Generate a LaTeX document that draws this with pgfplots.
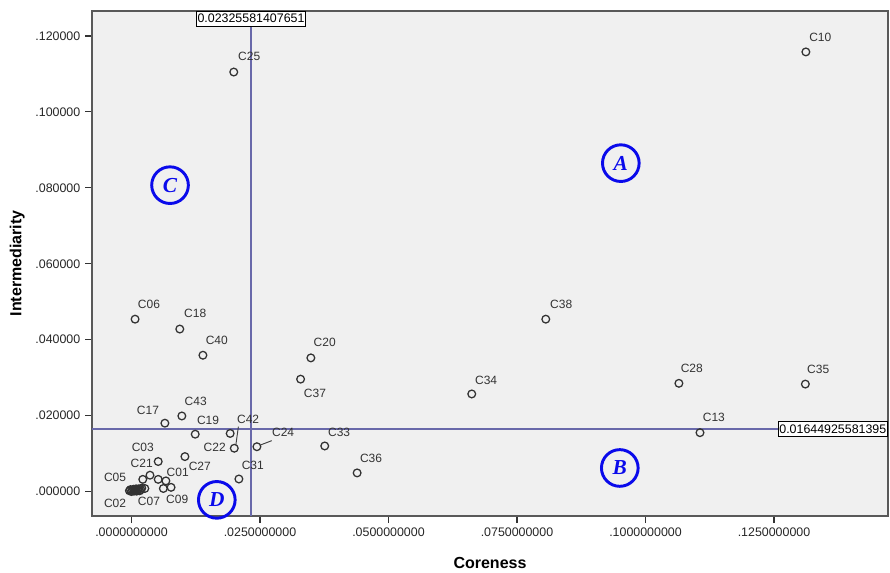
\documentclass[border=0pt]{standalone}
\usepackage{fontspec}
\setmainfont{Liberation Sans}
\newfontfamily\letterfont{Liberation Serif}
\usepackage{pgfplots}
\usepackage{pgfplotstable}
\pgfplotsset{compat=1.18}
\definecolor{refline}{RGB}{105,105,170}
\definecolor{mk}{RGB}{50,50,50}
\definecolor{circblue}{RGB}{10,10,235}

\pgfplotstableread{
x y
0.1312 0.1158
0.0199 0.1105
0.0806 0.0454
0.1065 0.0285
0.1311 0.0283
0.1106 0.0155
0.0662 0.0257
0.0349 0.0352
0.0329 0.0296
0.0376 0.0120
0.0439 0.0049
0.0007 0.0454
0.0094 0.0428
0.0139 0.0359
0.0065 0.0180
0.0098 0.0199
0.0124 0.0151
0.0192 0.0153
0.0200 0.0114
0.0244 0.0118
0.0104 0.0092
0.0052 0.0079
0.0036 0.0043
0.0052 0.0032
0.0067 0.0028
0.0077 0.0011
0.0062 0.0008
0.0026 0.0008
0.0022 0.0032
0.0209 0.0033
-0.0004 0.0002
-0.0002 0.0005
0.0000 0.0000
0.0002 0.0003
0.0004 0.0006
0.0005 0.0001
0.0007 0.0004
0.0009 0.0007
0.0010 0.0001
0.0012 0.0004
0.0014 0.0007
0.0016 0.0002
0.0018 0.0005
0.0020 0.0009
}\points

\pgfplotstableread{
x y label
0.1340 0.1197 C10
0.0229 0.1145 C25
0.0836 0.0494 C38
0.1090 0.0325 C28
0.1336 0.0323 C35
0.1133 0.0196 C13
0.0690 0.0294 C34
0.0376 0.0394 C20
0.0357 0.0259 C37
0.0404 0.0157 C33
0.0466 0.0086 C36
0.0034 0.0494 C06
0.0124 0.0468 C18
0.0166 0.0399 C40
0.0032 0.0215 C17
0.0125 0.0238 C43
0.0149 0.0188 C19
0.0227 0.0191 C42
0.0162 0.0117 C22
0.0295 0.0157 C24
0.0022 0.0117 C03
0.0020 0.0075 C21
0.0133 0.0065 C27
0.0090 0.0051 C01
0.0236 0.0070 C31
-0.0032 0.0036 C05
-0.0032 -0.0030 C02
0.0034 -0.0025 C07
0.0089 -0.0022 C09
}\labels

\tikzset{quad/.style={circle, draw=circblue, line width=2.2pt, minimum size=27.5pt, inner sep=0pt, text=circblue,
    font=\letterfont\bfseries\itshape\fontsize{16}{16}\selectfont},
  vbox/.style={draw=black, fill=white, line width=0.6pt, inner xsep=1pt, inner ysep=2.2pt, font=\fontsize{9.3}{10}\selectfont}}

\begin{document}
\begin{tikzpicture}
\begin{axis}[
  scale only axis,
  width=597pt, height=378.75pt,
  xmin=-0.00768, xmax=0.14718,
  ymin=-0.00645, ymax=0.12658,
  axis background/.style={fill=gray!12},
  axis line style={draw=black!65, line width=0.9pt},
  xtick={0,0.025,0.05,0.075,0.1,0.125},
  xticklabels={.0000000000,.0250000000,.0500000000,.0750000000,.1000000000,.1250000000},
  ytick={0,0.02,0.04,0.06,0.08,0.1,0.12},
  yticklabels={.000000,.020000,.040000,.060000,.080000,.100000,.120000},
  xtick pos=lower, ytick pos=left,
  tick align=outside, major tick length=5.25pt,
  tick style={black!80, line width=0.9pt},
  ticklabel style={font=\fontsize{9.3}{11}\selectfont, text=black!85},
  scaled ticks=false,
  xlabel={Coreness}, ylabel={Intermediarity},
  xlabel style={at={(axis description cs:0.5,-0.0924)}, anchor=center, font=\bfseries\fontsize{12}{14}\selectfont},
  ylabel style={at={(axis description cs:-0.0938,0.5)}, anchor=center, font=\bfseries\fontsize{12}{14}\selectfont},
  clip=false,
]
% reference lines
\addplot[refline, line width=1.1pt] coordinates {(0.02325581407651,-0.00645) (0.02325581407651,0.12658)};
\addplot[refline, line width=1.1pt] coordinates {(-0.00768,0.01644925581395) (0.14718,0.01644925581395)};
% points
\addplot[only marks, mark=o, mark size=2.9pt, mark options={draw=mk, line width=0.95pt}] table[x=x,y=y] {\points};
% point labels
\addplot[draw=none, mark=none, nodes near coords={\pgfplotspointmeta}, point meta=explicit symbolic,
  every node near coord/.style={anchor=center, inner sep=0pt, text=black!80, font=\fontsize{9}{10}\selectfont}]
  table[x=x,y=y,meta=label] {\labels};
% leader lines
\draw[black!75, line width=0.7pt] (axis cs:0.0208,0.0171) -- (axis cs:0.0203,0.0122);
\draw[black!75, line width=0.7pt] (axis cs:0.0250,0.0122) -- (axis cs:0.0273,0.0134);
% value boxes
\node[vbox, anchor=north] at (axis cs:0.02325581407651,0.12658) {0.02325581407651};
\node[vbox, anchor=east] at (axis cs:0.14718,0.01644925581395) {0.01644925581395};
% quadrant letters
\node[quad] at (axis cs:0.0952,0.0865) {A};
\node[quad] at (axis cs:0.0950,0.0062) {B};
\node[quad] at (axis cs:0.0075,0.0807) {C};
\node[quad] at (axis cs:0.0166,-0.0022) {D};
\coordinate (sw) at (rel axis cs:0,0);
\coordinate (ne) at (rel axis cs:1,1);
\end{axis}
\pgfresetboundingbox
\path ([shift={(-69pt,-42.75pt)}]sw) rectangle ([shift={(1.5pt,8.25pt)}]ne);
\end{tikzpicture}
\end{document}
